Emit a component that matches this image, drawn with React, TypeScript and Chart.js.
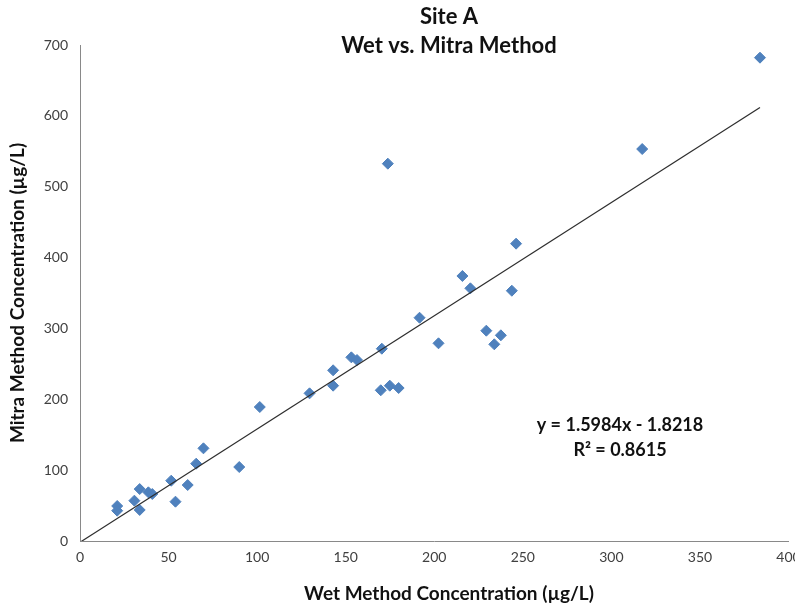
import React, { useEffect, useRef } from "react";
import { Chart, registerables } from "chart.js";

Chart.register(...registerables);

const CHART_TITLE = ["Site A", "Wet vs. Mitra Method"];
const X_TITLE = "Wet Method Concentration (µg/L)";
const Y_TITLE = "Mitra Method Concentration (µg/L)";

const WET = [21.0, 21.0, 30.7, 33.7, 33.7, 38.6, 40.8, 51.5, 53.9, 60.8, 65.6, 69.7, 89.9, 101.5, 129.6, 142.9, 142.9, 153.2, 156.4, 170.4, 169.8, 174.9, 179.9, 173.8, 191.7, 202.4, 215.9, 220.4, 229.4, 233.9, 237.6, 243.8, 246.2, 317.4, 383.9];
const MITRA = [49.4, 42.8, 56.9, 73.3, 43.8, 68.7, 66.3, 85.1, 55.5, 79.0, 109.1, 130.8, 104.4, 189.1, 208.4, 240.9, 219.2, 259.2, 255.4, 271.4, 212.7, 219.2, 215.9, 532.5, 315.1, 279.0, 374.0, 356.6, 296.8, 277.6, 290.3, 353.2, 419.6, 553.2, 682.1];

const SLOPE = 1.5984;
const INTERCEPT = -1.8218;
const R2 = 0.8615;

const X_MIN = 0, X_MAX = 400, X_STEP = 50;
const Y_MIN = 0, Y_MAX = 700, Y_STEP = 100;

const FONT = "Lato, 'Open Sans', sans-serif";

export default function App() {
  const ref = useRef<HTMLCanvasElement | null>(null);

  useEffect(() => {
    const canvas = ref.current;
    if (!canvas) return;

    const points = WET.map((x, i) => ({ x, y: MITRA[i] }));
    const xHi = Math.max(...WET);
    const trend = [
      { x: 0, y: INTERCEPT },
      { x: xHi, y: SLOPE * xHi + INTERCEPT },
    ];

    const textPlugin = {
      id: "texts",
      afterDraw(chart: any) {
        const ctx = chart.ctx as CanvasRenderingContext2D;
        ctx.save();
        ctx.fillStyle = "#111";
        ctx.textAlign = "center";
        ctx.textBaseline = "middle";
        ctx.font = `bold 22px ${FONT}`;
        ctx.fillText(CHART_TITLE[0], 449, 17);
        ctx.fillText(CHART_TITLE[1], 449, 46);
        ctx.font = `bold 19px ${FONT}`;
        ctx.fillText(X_TITLE, 449, 594);
        ctx.save();
        ctx.translate(18, 293);
        ctx.rotate(-Math.PI / 2);
        ctx.fillText(Y_TITLE, 0, 0);
        ctx.restore();
        ctx.font = `bold 18px ${FONT}`;
        const sign = INTERCEPT < 0 ? "-" : "+";
        ctx.fillText(`y = ${SLOPE.toFixed(4)}x ${sign} ${Math.abs(INTERCEPT).toFixed(4)}`, 620, 425);
        ctx.fillText(`R² = ${R2.toFixed(4)}`, 620, 450);
        ctx.restore();
      },
    };

    const chart = new Chart(canvas, {
      type: "scatter",
      data: {
        datasets: [
          {
            type: "line",
            label: "Trend",
            data: trend,
            borderColor: "#2e2e2e",
            borderWidth: 1.2,
            pointRadius: 0,
            fill: false,
            order: 0,
          } as any,
          {
            type: "scatter",
            label: "Mitra",
            data: points,
            pointStyle: "rectRot",
            pointRadius: 5.5,
            pointHoverRadius: 5.5,
            backgroundColor: "#4F81BD",
            borderColor: "#4F81BD",
            borderWidth: 1,
            order: 1,
          },
        ],
      },
      options: {
        animation: false,
        responsive: true,
        maintainAspectRatio: false,
        layout: { padding: { top: 45, right: 3, left: 0, bottom: 0 } },
        plugins: {
          legend: { display: false },
          tooltip: { enabled: false },
          title: { display: false },
        },
        scales: {
          x: {
            type: "linear",
            min: X_MIN,
            max: X_MAX,
            grid: { display: false, drawTicks: false, tickLength: 0 },
            border: { display: true, color: "#898989", width: 1 },
            ticks: {
              stepSize: X_STEP,
              padding: 8,
              color: "#404040",
              font: { family: FONT, size: 14 },
              maxRotation: 0,
              autoSkip: false,
            },
            afterFit(scale: any) {
              scale.height = 65;
              scale.paddingLeft = 0;
              scale.paddingRight = 0;
            },
          },
          y: {
            type: "linear",
            min: Y_MIN,
            max: Y_MAX,
            grid: { display: false, drawTicks: false, tickLength: 0 },
            border: { display: true, color: "#898989", width: 1 },
            ticks: {
              stepSize: Y_STEP,
              padding: 12,
              color: "#404040",
              font: { family: FONT, size: 14 },
            },
            afterFit(scale: any) {
              scale.width = 80;
            },
          },
        },
      },
      plugins: [textPlugin],
    });

    return () => chart.destroy();
  }, []);

  return (
    <div style={{ position: "absolute", left: 0, top: 0, width: 795, height: 606, background: "#fff" }}>
      <canvas ref={ref} />
    </div>
  );
}
